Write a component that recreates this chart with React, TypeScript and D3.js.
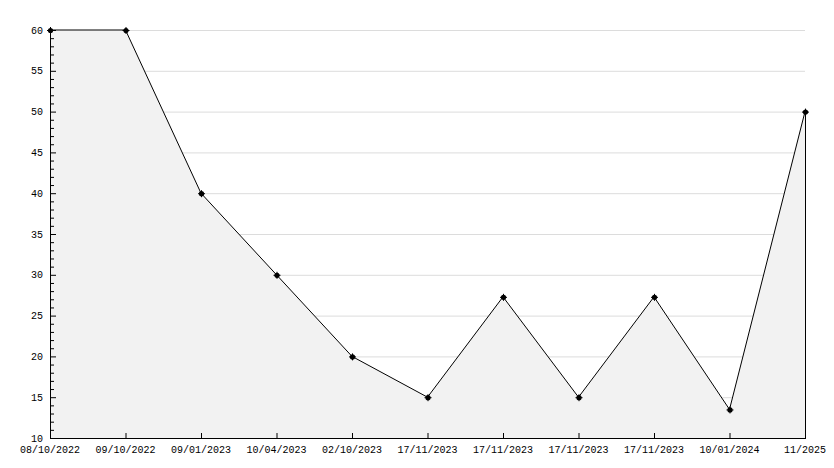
import React from "react";
import * as d3 from "d3";

const categories = [
  "08/10/2022", "09/10/2022", "09/01/2023", "10/04/2023", "02/10/2023",
  "17/11/2023", "17/11/2023", "17/11/2023", "17/11/2023", "10/01/2024", "11/2025",
];
const values = [60, 60, 40, 30, 20, 15, 27.3, 15, 27.3, 13.5, 50];
const yMajorTicks = [10, 15, 20, 25, 30, 35, 40, 45, 50, 55, 60];

const W = 834, H = 468;
const L = 50, R = 805, T = 30, B = 438;
const FONT = "'Liberation Mono', monospace";

export default function App() {
  const x = d3.scalePoint<number>().domain(d3.range(categories.length)).range([L, R]);
  const y = d3.scaleLinear().domain([10, 60]).range([B, T]);
  const idx = d3.range(values.length);
  const line = d3.line<number>().x((i) => x(i)!).y((i) => y(values[i]));
  const area = d3.area<number>().x((i) => x(i)!).y0(B).y1((i) => y(values[i]));
  const minor = d3.range(10, 61, 1);

  return (
    <svg width={W} height={H} style={{ position: "absolute", left: 0, top: 0 }}>
      <rect width={W} height={H} fill="#fff" />
      {yMajorTicks.filter((v) => v > 10).map((v) => (
        <line key={"g" + v} x1={L} x2={R} y1={y(v) + 0.5} y2={y(v) + 0.5} stroke="#dcdcdc" />
      ))}
      <path d={area(idx)!} fill="#f2f2f2" />
      <line x1={R + 0.5} x2={R + 0.5} y1={B} y2={y(values[values.length - 1])} stroke="#000" />
      <path d={line(idx)!} fill="none" stroke="#000" strokeWidth={1} />
      <line x1={L + 0.5} x2={L + 0.5} y1={T} y2={B + 0.5} stroke="#000" />
      <line x1={L} x2={R + 1} y1={B + 0.5} y2={B + 0.5} stroke="#000" />
      {minor.map((v) => (
        <line key={"m" + v} x1={L} x2={v % 5 === 0 ? L + 6 : L + 4} y1={y(v) + 0.5} y2={y(v) + 0.5} stroke="#000" />
      ))}
      {yMajorTicks.map((v) => (
        <text key={"t" + v} x={43} y={y(v)} dy="0.35em" textAnchor="end" fontFamily={FONT} fontSize={10} fill="#000">
          {v}
        </text>
      ))}
      {categories.map((c, i) => (
        <g key={"x" + i}>
          <line x1={x(i)! + 0.5} x2={x(i)! + 0.5} y1={B - 5} y2={B} stroke="#000" />
          <text x={x(i)!} y={453} textAnchor="middle" fontFamily={FONT} fontSize={10} fill="#000">
            {c}
          </text>
        </g>
      ))}
      {idx.map((i) => (
        <g key={"p" + i} transform={`translate(${x(i)! + 0.5},${y(values[i]) + 0.5})`}>
          <circle r={2.6} fill="#000" />
          <path d="M-3.5,0H3.5M0,-3.5V3.5" stroke="#000" strokeWidth={1} />
        </g>
      ))}
    </svg>
  );
}
